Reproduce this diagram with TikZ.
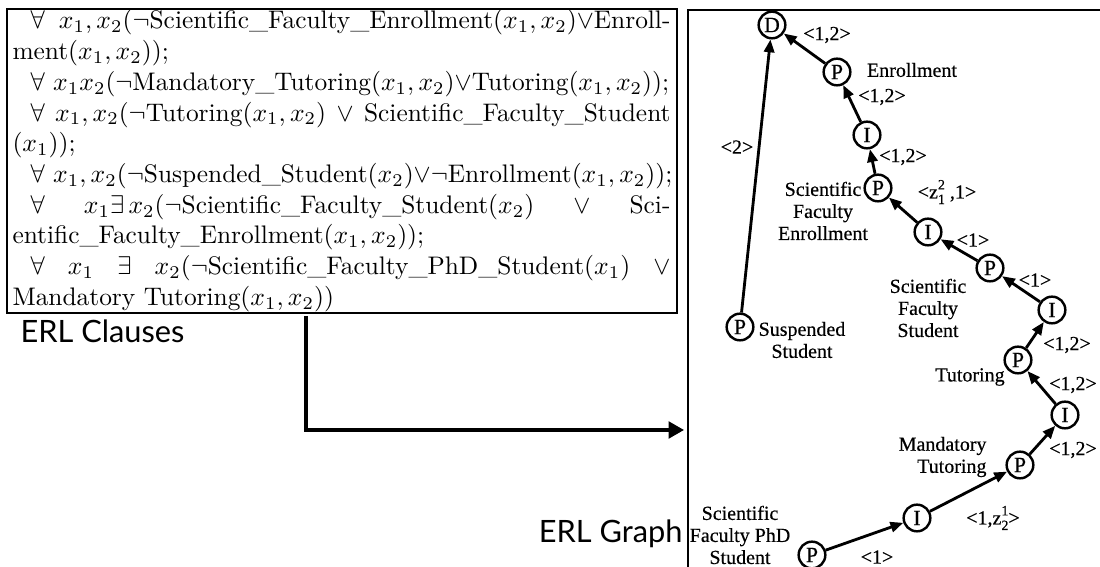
\documentclass[tikz,border=0pt]{standalone}
\usepackage{fontspec}
\usetikzlibrary{arrows.meta}
\newfontfamily\capfont{Lato}
\newfontfamily\grfont[FakeBold=0.4]{Liberation Serif}
\newlength\clw
\setlength\clw{249.6pt}
% z with a stacked superscript and subscript
\newcommand\zz[2]{z\rlap{\raisebox{1.0ex}{\fontsize{5.5}{6}\selectfont#1}}\raisebox{-0.6ex}{\fontsize{5.5}{6}\selectfont#2}}
\begin{document}
\begin{tikzpicture}[x=0.39pt,y=-0.39pt,
  frame/.style={line width=0.8pt},
  cline/.style={anchor=base west, inner sep=0pt, font=\fontsize{9.9}{12}\selectfont},
  vnode/.style={circle, draw, line width=0.95pt, minimum size=10.4pt, inner sep=0pt,
    font=\grfont\fontsize{8.5}{9}\selectfont},
  garrow/.style={line width=1.1pt, -{Triangle[length=5pt,width=4pt]}},
  glabel/.style={inner sep=0pt, align=center, font=\grfont\fontsize{7.8}{8.6}\selectfont},
  flow/.style={line width=1.2pt, -{Triangle[length=6pt,width=6.5pt]}},
  title/.style={inner sep=0pt, font=\capfont\fontsize{12}{14}\selectfont}]
\useasboundingbox (0,0) rectangle (1100,567);
\fill[white] (0,0) rectangle (1100,567);

% clause box
\draw[frame] (7,9) rectangle (677,313);
\node[cline] (c1) at (30,29) {\hbox to\clw{$\forall$ $x_1,x_2$($\neg$Scientific\_Faculty\_Enrollment$(x_1,x_2){\vee}$Enroll-}};
\node[cline] (c2) at (12,59.7) {ment$(x_1,x_2))$;};
\node[cline] (c3) at (30,90.4) {$\forall$ $x_1x_2$($\neg$Mandatory\_Tutoring$(x_1,x_2){\vee}$Tutoring$(x_1,x_2))$;};
\node[cline] (c4) at (30,121.1) {\hbox to\clw{$\forall$ $x_1,x_2$($\neg$Tutoring$(x_1,x_2)$ $\vee$ Scientific\_Faculty\_Student}};
\node[cline] (c5) at (12,151.8) {$(x_1))$;};
\node[cline] (c6) at (30,182.5) {$\forall$ $x_1,x_2$($\neg$Suspended\_Student$(x_2){\vee}{\neg}$Enrollment$(x_1,x_2))$;};
\node[cline] (c7) at (30,213.2) {\hbox to\clw{$\forall$\hfill$x_1{\exists}\,x_2$($\neg$Scientific\_Faculty\_Student$(x_2)$\hfill$\vee$\hfill Sci-}};
\node[cline] (c8) at (12,243.9) {entific\_Faculty\_Enrollment$(x_1,x_2))$;};
\node[cline] (c9) at (30,274.6) {\hbox to\clw{$\forall$\hfill$x_1$\hfill$\exists$\hfill$x_2$($\neg$Scientific\_Faculty\_PhD\_Student$(x_1)$\hfill$\vee$}};
\node[cline] (c10) at (12,305.3) {Mandatory Tutoring$(x_1,x_2))$};
\node[title, anchor=base west] (tclauses) at (20,343) {ERL Clauses};

% graph panel
\draw[frame] (1104,10) -- (688,10) -- (688,571);
\node[title, anchor=base east] (tgraph) at (683,543) {ERL Graph};

% transformation arrow
\coordinate (cout) at (306,316);
\coordinate (gin) at (684,430);
\draw[flow] (cout) |- (gin);

% ERL graph nodes
\node[vnode] (D)    at (772,25)  {D};
\node[vnode] (Penr) at (837,72)  {P};
\node[vnode] (I1)   at (867,135) {I};
\node[vnode] (Psfe) at (878,188) {P};
\node[vnode] (I2)   at (928,232) {I};
\node[vnode] (Psfs) at (990,268) {P};
\node[vnode] (I3)   at (1052,310) {I};
\node[vnode] (Ptut) at (1018,360) {P};
\node[vnode] (I4)   at (1065,415) {I};
\node[vnode] (Pmt)  at (1020,465) {P};
\node[vnode] (I5)   at (917,518) {I};
\node[vnode] (Pphd) at (812,555) {P};
\node[vnode] (Psus) at (740,327) {P};

% edges
\draw[garrow] (Penr) -- (D);
\draw[garrow] (I1) -- (Penr);
\draw[garrow] (Psfe) -- (I1);
\draw[garrow] (I2) -- (Psfe);
\draw[garrow] (Psfs) -- (I2);
\draw[garrow] (I3) -- (Psfs);
\draw[garrow] (Ptut) -- (I3);
\draw[garrow] (I4) -- (Ptut);
\draw[garrow] (Pmt) -- (I4);
\draw[garrow] (I5) -- (Pmt);
\draw[garrow] (Pphd) -- (I5);
\draw[garrow] (Psus) -- (D);

% labels
\node[glabel] (l1)  at (827,35)  {<1,2>};
\node[glabel] (n1)  at (912,70)  {Enrollment};
\node[glabel] (l2)  at (882,97)  {<1,2>};
\node[glabel] (l3)  at (737,147) {<2>};
\node[glabel] (l4)  at (903,157) {<1,2>};
\node[glabel] (n2)  at (823,211) {Scientific\\Faculty\\Enrollment};
\node[glabel] (l5)  at (947,192) {<\zz{2}{1} ,1>};
\node[glabel] (l6)  at (973,240) {<1>};
\node[glabel] (l7)  at (1035,280) {<1>};
\node[glabel] (n3)  at (928,308) {Scientific\\Faculty\\Student};
\node[glabel] (n4)  at (802,340) {Suspended\\Student};
\node[glabel] (l8)  at (1067,345) {<1,2>};
\node[glabel] (n5)  at (970,377) {Tutoring};
\node[glabel] (l9)  at (1073,385) {<1,2>};
\node[glabel, align=right, anchor=east] (n6) at (987,457) {Mandatory\\Tutoring};
\node[glabel] (l10) at (1073,450) {<1,2>};
\node[glabel] (l11) at (993,518) {<1,\zz{1}{2}>};
\node[glabel] (n7)  at (740,535) {Scientific\\Faculty PhD\\Student};
\node[glabel] (l12) at (877,557) {<1>};
\end{tikzpicture}
\end{document}
